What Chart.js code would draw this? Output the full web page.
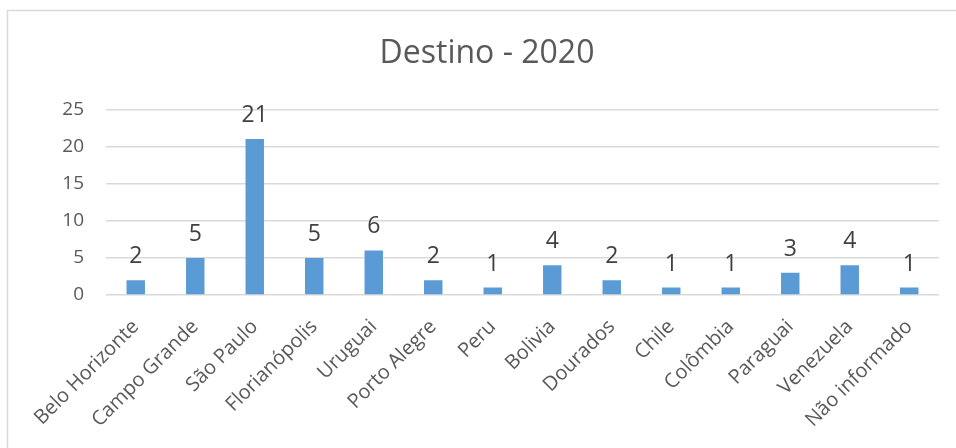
<!DOCTYPE html>
<html>
<head>
<meta charset="utf-8">
<script src="https://cdn.jsdelivr.net/npm/chart.js@4"></script>
<style>
  html, body { margin: 0; padding: 0; background: #ffffff; }
  #wrap { width: 956px; height: 448px; }
</style>
</head>
<body>
<div id="wrap"><canvas id="destinoChart" width="956" height="448"></canvas></div>
<script>
const destinos = ['Belo Horizonte', 'Campo Grande', 'São Paulo', 'Florianópolis', 'Uruguai', 'Porto Alegre',
  'Peru', 'Bolivia', 'Dourados', 'Chile', 'Colômbia', 'Paraguai', 'Venezuela', 'Não informado'];
const quantidades = [2, 5, 21, 5, 6, 2, 1, 4, 2, 1, 1, 3, 4, 1];
const yTicks = [0, 5, 10, 15, 20, 25];

const fonte = "'Open Sans', sans-serif";

// valores escritos em cima de cada barra
const rotulosBarras = {
  id: 'rotulosBarras',
  afterDatasetsDraw(chart) {
    const ctx = chart.ctx;
    const meta = chart.getDatasetMeta(0);
    ctx.save();
    ctx.font = '23px ' + fonte;
    ctx.fillStyle = '#404040';
    ctx.textAlign = 'center';
    ctx.textBaseline = 'alphabetic';
    meta.data.forEach((bar, i) => {
      ctx.fillText(String(quantidades[i]), bar.x, bar.y - 17);
    });
    ctx.restore();
  }
};

// moldura da área do gráfico
const moldura = {
  id: 'moldura',
  beforeDraw(chart) {
    const ctx = chart.ctx;
    ctx.save();
    ctx.strokeStyle = '#d9d9d9';
    ctx.lineWidth = 1.5;
    ctx.beginPath();
    ctx.moveTo(7.5, 460);
    ctx.lineTo(7.5, 10.5);
    ctx.lineTo(956, 10.5);
    ctx.stroke();
    ctx.restore();
  }
};

new Chart(document.getElementById('destinoChart'), {
  type: 'bar',
  data: {
    labels: destinos,
    datasets: [{
      label: 'Destino',
      data: quantidades,
      backgroundColor: '#5b9bd5',
      categoryPercentage: 1,
      barPercentage: 0.31
    }]
  },
  options: {
    responsive: false,
    animation: false,
    layout: { padding: { left: 35, right: 17, top: 0, bottom: 0 } },
    plugins: {
      legend: { display: false },
      tooltip: { enabled: false },
      title: {
        display: true,
        text: 'Destino - 2020',
        color: '#595959',
        font: { family: fonte, size: 32, weight: 'normal', lineHeight: 1.2 },
        padding: { top: 35, bottom: 36 }
      }
    },
    scales: {
      x: {
        grid: { display: false, drawTicks: false },
        border: { display: false },
        afterFit(axis) { axis.height = 153; },
        ticks: {
          autoSkip: false,
          maxRotation: 45,
          minRotation: 45,
          padding: 20,
          color: '#595959',
          font: { family: fonte, size: 20 }
        }
      },
      y: {
        min: 0,
        max: 25,
        afterFit(axis) { axis.width = 71; },
        afterBuildTicks(axis) { axis.ticks = yTicks.map(v => ({ value: v })); },
        grid: { color: '#d9d9d9', lineWidth: 1.5, drawTicks: false },
        border: { display: false },
        ticks: {
          padding: 22,
          color: '#595959',
          font: { family: fonte, size: 19 }
        }
      }
    }
  },
  plugins: [moldura, rotulosBarras]
});
</script>
</body>
</html>
